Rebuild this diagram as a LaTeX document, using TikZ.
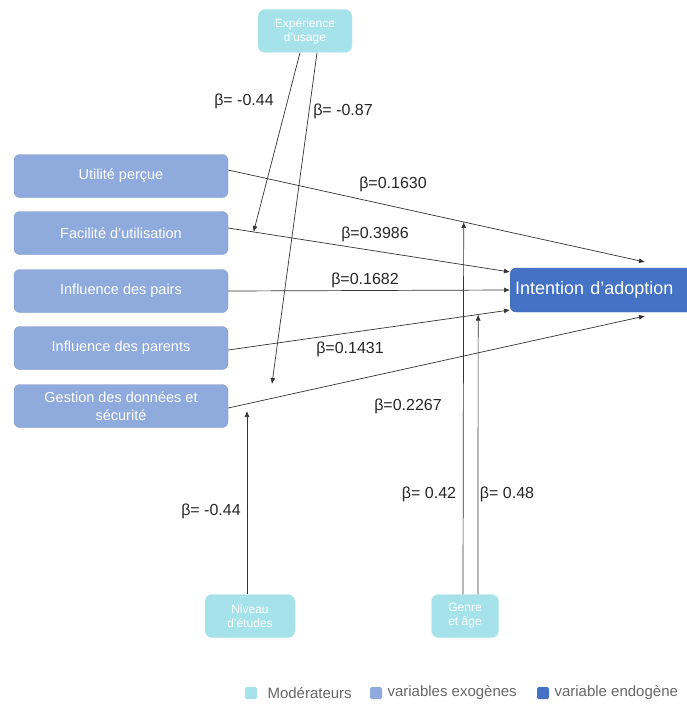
\documentclass[tikz,border=0pt]{standalone}
\usepackage{fontspec}
\setmainfont{Liberation Sans}
\usetikzlibrary{arrows.meta}
\definecolor{modcol}{HTML}{A6E2EA}
\definecolor{exocol}{HTML}{8FAADC}
\definecolor{endocol}{HTML}{4472C4}
\definecolor{linecol}{HTML}{333333}
\tikzset{
  modbox/.style={draw=modcol!80!white, fill=modcol, rounded corners=7pt, text=white,
    align=center, font=\fontsize{12}{14}\selectfont, inner sep=0pt},
  exobox/.style={draw=exocol!90!black, fill=exocol, rounded corners=6pt, text=white,
    align=center, font=\fontsize{14.5}{17.5}\selectfont, inner sep=0pt,
    minimum width=214pt, minimum height=43pt},
  endobox/.style={draw=endocol!90!black, fill=endocol, rounded corners=6pt, text=white,
    font=\fontsize{18}{21}\selectfont, inner sep=0pt, anchor=west,
    minimum width=200pt, minimum height=44pt},
  link/.style={draw=linecol, line width=0.7pt, -{Latex[length=6pt,width=5pt]}},
  coef/.style={font=\fontsize{16}{18}\selectfont, text=black!85},
  legsq/.style={minimum size=12pt, inner sep=0pt, rounded corners=1.5pt},
  legtxt/.style={font=\fontsize{15}{17}\selectfont, text=black!60, anchor=west}
}
\begin{document}
\begin{tikzpicture}[x=1pt,y=-1pt]
\useasboundingbox (0,0) rectangle (687,706);
\clip (0,0) rectangle (687,706);

% exogenous variables
\node[exobox] (u) at (121,176) {Utilité perçue};
\node[exobox] (f) at (121,233) {Facilité d'utilisation};
\node[exobox] (p) at (121,291) {Influence des pairs};
\node[exobox] (r) at (121,348) {Influence des parents};
\node[exobox] (g) at (121,406) {Gestion des données et\\sécurité};

% endogenous variable
\node[endobox, text width=200pt, align=left] (i) at (510,290) {\hspace*{5pt}Intention d'adoption};

% moderators
\node[modbox, minimum width=94pt, minimum height=43pt] (m1) at (305,31) {Expérience\\d'usage};
\node[modbox, minimum width=90pt, minimum height=43pt] (m2) at (250,616) {Niveau\\d'études};
\node[modbox, minimum width=67pt, minimum height=43pt] (m3) at (465,616) {Genre\\et âge};

% direct paths
\coordinate (t1) at (645,262);
\coordinate (t5) at (645,316);
\draw[link] (u.east |- 0,170) -- coordinate[pos=0.565] (c1) (t1);
\draw[link] (f.east |- 0,228) -- coordinate[pos=0.09] (c2) (i.west |- 0,272);
\draw[link] (p.east) -- (i.west);
\draw[link] (r.east |- 0,350) -- coordinate[pos=0.887] (c4) (i.west |- 0,310);
\draw[link] (g.east |- 0,408) -- coordinate[pos=0.105] (c5b) (t5);

% moderating paths
\draw[link] (m1.south -| 300,0) -- (c2);
\draw[link] (m1.south -| 317,0) -- (c5b |- 0,384);
\draw[link] (m2.north -| 247,0) -- (247,411);
\draw[link] (m3.north -| 463,0) -- (c1);
\draw[link] (m3.north -| 478,0) -- (c4);

% coefficients
\node[coef] at (393,184) {β=0.1630};
\node[coef] at (375,234) {β=0.3986};
\node[coef] at (365,280) {β=0.1682};
\node[coef] at (350,349) {β=0.1431};
\node[coef] at (408,406) {β=0.2267};
\node[coef] at (244,101) {β= -0.44};
\node[coef] at (343,111) {β= -0.87};
\node[coef] at (211,511) {β= -0.44};
\node[coef] at (429,494) {β= 0.42};
\node[coef] at (507,494) {β= 0.48};

% legend
\node[legsq, fill=modcol] (l1) at (251,693) {};
\node[legtxt] (l1t) at (264,693) {Modérateurs};
\node[legsq, fill=exocol] (l2) at (376,693) {};
\node[legtxt] (l2t) at (384,693) {variables exogènes};
\node[legsq, fill=endocol] (l3) at (543,693) {};
\node[legtxt] (l3t) at (551,693) {variable endogène};
\end{tikzpicture}
\end{document}
